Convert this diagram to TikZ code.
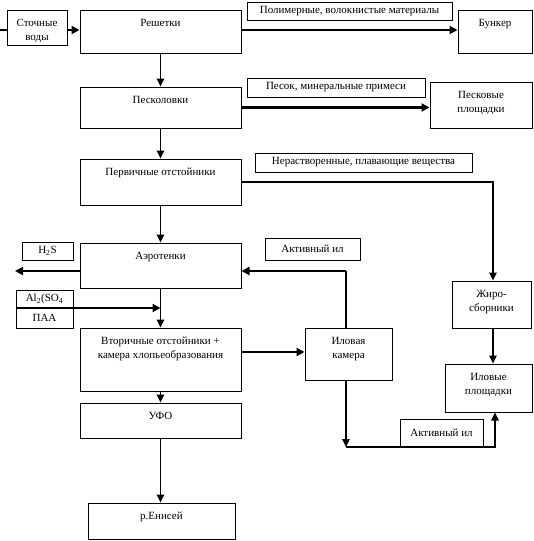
\documentclass[tikz,border=0pt]{standalone}
\usepackage{fontspec}
\setmainfont{Liberation Serif}
\usetikzlibrary{arrows.meta}
\tikzset{
  box/.style={draw, line width=1pt, inner sep=0pt, fill=white},
  tag/.style={draw, line width=1pt, inner sep=0pt, font=\fontsize{11}{12}\selectfont, fill=white},
  thin/.style={line width=1.2pt},
  thick/.style={line width=2.8pt},
  arr/.style={-{Triangle[length=8pt,width=8pt]}},
  arrt/.style={-{Triangle[length=8pt,width=7.5pt]}},
}
\newcommand\bx[6]{%
  \node[box, minimum width={(#4-#2)*1pt}, minimum height={(#5-#3)*1pt},
    label={[anchor=north, yshift=-6pt, align=center, font=\fontsize{11}{14}\selectfont]north:#6}]
    (#1) at ({(#2+#4)/2},{-(#3+#5)/2}) {};}
\newcommand\tg[6]{%
  \node[tag, minimum width={(#4-#2)*1pt}, minimum height={(#5-#3)*1pt}]
    (#1) at ({(#2+#4)/2},{-(#3+#5)/2}) {#6};}
\begin{document}
\begin{tikzpicture}[x=1pt,y=1pt]
\useasboundingbox (0,0) rectangle (533,-541);
% main boxes
\bx{stoch}{7}{10}{67}{45}{Сточные\\воды}
\bx{resh}{80}{10}{241}{53}{Решетки}
\bx{bunk}{458}{10}{532}{53}{Бункер}
\bx{pesk}{80}{87}{241}{128}{Песколовки}
\bx{pplo}{430}{82}{532}{128}{Песковые\\площадки}
\bx{perv}{80}{159}{241}{205}{Первичные отстойники}
\bx{aero}{80}{243}{241}{288}{Аэротенки}
\bx{vtor}{80}{328}{241}{391}{Вторичные отстойники +\\камера хлопьеобразования}
\bx{ilov}{305}{328}{392}{380}{Иловая\\камера}
\bx{zhir}{452}{281}{531}{328}{Жиро-\\сборники}
\bx{ilpl}{445}{364}{532}{412}{Иловые\\площадки}
\bx{ufo}{80}{403}{241}{438}{УФО}
\bx{enis}{88}{503}{235}{539}{р.Енисей}
% tags
\tg{tpol}{247}{2}{452}{20}{Полимерные, волокнистые материалы}
\tg{tpes}{247}{78}{425}{97}{Песок, минеральные примеси}
\tg{tner}{255}{153}{472}{172}{Нерастворенные, плавающие вещества}
\tg{th2s}{22}{242}{73}{260}{H\textsubscript{2}S}
\tg{tak1}{265}{238}{360}{260}{Активный ил}
\tg{tal}{16}{290}{73}{308}{Al\textsubscript{2}(SO\textsubscript{4}}
\tg{tpaa}{16}{308}{73}{328}{ПАА}
\tg{tak2}{400}{419}{483}{447}{Активный ил}
% coordinates
\coordinate (src) at (0,-30);
\coordinate (h2sout) at (15,-271);
\coordinate (ret) at (346,-271);
\coordinate (alin) at (16,-308);
\coordinate (ilbot) at (346,-447);
\coordinate (corner) at (495,-447);
% connectors
\draw[thick] (src) -- (src -| stoch.west);
\draw[thick, arr] ([yshift=-2.5pt]stoch.east) -- ([yshift=-2.5pt]stoch.east -| resh.west);
\draw[thick, arr] ([yshift=1.5pt]resh.east) -- ([yshift=1.5pt]resh.east -| bunk.west);
\draw[thin, arrt] (resh.south) -- (pesk.north);
\draw[thick, arr] (pesk.east) -- (pesk.east -| pplo.west);
\draw[thin, arrt] (pesk.south) -- (perv.north);
\draw[thin, arrt] (perv.east) -| ([xshift=1.5pt]zhir.north);
\draw[thin, arrt] (perv.south) -- (aero.north);
\draw[thick, arr] ([yshift=-5.5pt]aero.west) -- (h2sout);
\draw[thin] ([xshift=-2.5pt]ilov.north) -- (ret);
\draw[thick, arr] (ret) -- (ret -| aero.east);
\draw[thick, arr] (alin) -- (alin -| aero.south);
\draw[thin, arrt] (aero.south) -- (vtor.north);
\draw[thick, arr] ([yshift=7.5pt]vtor.east) -- ([yshift=7.5pt]vtor.east -| ilov.west);
\draw[thin, arrt] ([xshift=-2.5pt]ilov.south) -- (ilbot);
\draw[thin, arrt] (ilbot) -- (corner) -- (corner |- ilpl.south);
\draw[thin, arrt] ([xshift=1.5pt]zhir.south) -- ([xshift=1.5pt]zhir.south |- ilpl.north);
\draw[thin, arrt] (vtor.south) -- (ufo.north);
\draw[thin, arrt] (ufo.south) -- (ufo.south |- enis.north);
\end{tikzpicture}
\end{document}
